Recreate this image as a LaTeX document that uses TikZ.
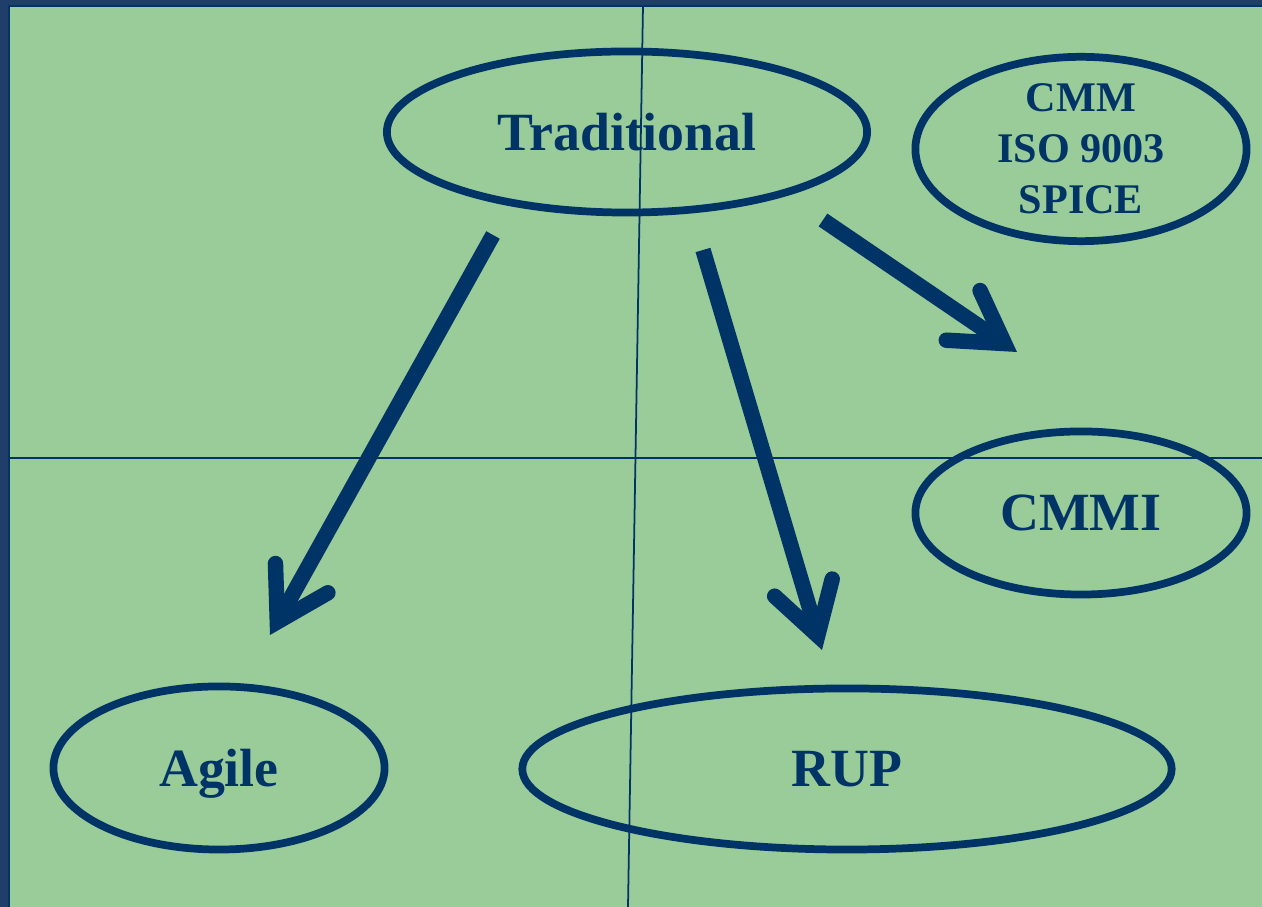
\documentclass[tikz,border=0pt]{standalone}
\usepackage{fontspec}
\setmainfont{Liberation Serif}
\usetikzlibrary{shapes.geometric,arrows.meta}
\definecolor{navy}{HTML}{003366}
\definecolor{paper}{HTML}{99CC99}
\definecolor{frame}{HTML}{1F3F6A}
\begin{document}
\begin{tikzpicture}[x=0.01cm,y=-0.01cm,
  oval/.style={ellipse,draw=navy,line width=2.2pt,inner sep=0pt,text=navy,
    font=\fontsize{15.3}{18}\selectfont\bfseries},
  word/.style={text depth=0pt},
  bigarrow/.style={navy,line width=4.4pt,
    -{Straight Barb[length=5mm,width=6mm,line cap=round,line join=miter]}}]
 \useasboundingbox (0,0) rectangle (1262,907);
 \fill[frame] (0,0) rectangle (1262,907);
 \filldraw[fill=paper,draw=navy,line width=0.6pt] (9,6) rectangle (1270,915);
 \draw[navy,line width=0.5pt] (643,6) -- (628,907);
 \draw[navy,line width=0.5pt] (9,458) -- (1262,458);
 \node[oval,word,minimum width=4.80cm,minimum height=1.61cm] (trad) at (627,132) {Traditional};
 \node[oval,minimum width=3.31cm,minimum height=1.65cm,align=center,
   font=\fontsize{12}{14.5}\selectfont\bfseries] (cmm) at (1081,149) {CMM\\ISO 9003\\SPICE};
 \node[oval,word,minimum width=3.31cm,minimum height=1.63cm] (cmmi) at (1081,513) {CMMI};
 \node[oval,word,minimum width=3.31cm,minimum height=1.63cm] (agile) at (219,768) {Agile};
 \node[oval,word,minimum width=6.49cm,minimum height=1.61cm] (rup) at (847,769) {RUP};
 \coordinate (toAgileS) at (493,235);
 \coordinate (toAgileE) at (270,635);
 \coordinate (toRupS) at (703,250);
 \coordinate (toRupE) at (822,650);
 \coordinate (toCmmiS) at (823,220);
 \coordinate (toCmmiE) at (1017,352);
 \draw[bigarrow] (toAgileS) -- (toAgileE);
 \draw[bigarrow] (toRupS) -- (toRupE);
 \draw[bigarrow] (toCmmiS) -- (toCmmiE);
\end{tikzpicture}
\end{document}
